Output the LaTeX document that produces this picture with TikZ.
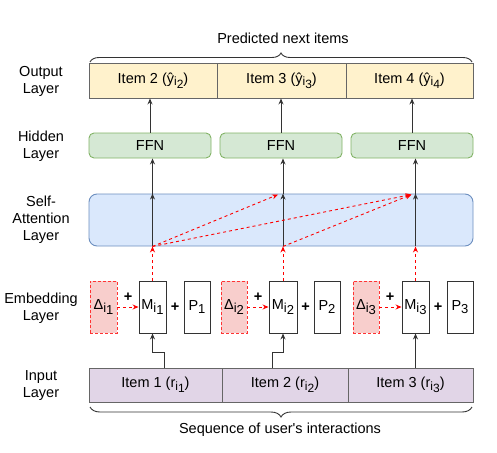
\documentclass[tikz,border=0pt]{standalone}
\usepackage{fontspec}
\setmainfont{Liberation Sans}[Ligatures=TeXOff]
\usetikzlibrary{arrows.meta,decorations.pathreplacing,calc}
\definecolor{outfill}{HTML}{FFF2CC}
\definecolor{infill}{HTML}{E1D5E7}
\definecolor{ffnfill}{HTML}{D5E8D4}
\definecolor{ffndraw}{HTML}{82B366}
\definecolor{safill}{HTML}{DAE8FC}
\definecolor{sadraw}{HTML}{6C8EBF}
\definecolor{dfill}{HTML}{F8CECC}
\definecolor{ddraw}{HTML}{FF3333}
\definecolor{lne}{HTML}{333333}
\newcommand\mysub[2]{\raisebox{-0.4ex}{\fontsize{13}{13}\selectfont #1\raisebox{-0.4ex}{#2}}}
\newcommand\ysub[2]{\raisebox{-0.35ex}{\fontsize{12}{12}\selectfont #1\raisebox{-0.4ex}{#2}}}
\newcommand\psub[1]{\raisebox{-0.45ex}{\fontsize{13}{13}\selectfont #1}}
\begin{document}
\begin{tikzpicture}[x=1pt,y=-1pt,font=\fontsize{14.5}{17}\selectfont,
  cell/.style={draw=black!60,line width=0.9pt,minimum height=35pt,inner sep=0pt,anchor=center},
  ocell/.style={cell,fill=outfill,minimum height=35pt},
  icell/.style={cell,fill=infill,minimum height=34pt},
  ffnbox/.style={draw=ffndraw,fill=ffnfill,line width=0.9pt,rounded corners=5pt,minimum width=122pt,minimum height=25pt,inner sep=0pt},
  sabox/.style={draw=sadraw,fill=safill,line width=0.9pt,rounded corners=8pt,minimum width=384pt,minimum height=52pt,inner sep=0pt},
  embox/.style={draw=lne,fill=white,line width=0.9pt,minimum height=52pt,inner sep=0pt},
  dbox/.style={draw=ddraw,fill=dfill,line width=0.9pt,dash pattern=on 3pt off 2pt,minimum height=52pt,inner sep=0pt},
  lab/.style={align=center,font=\fontsize{14.5}{17}\selectfont},
  arr/.style={draw=lne,line width=0.9pt,-{Stealth[length=6pt,width=5pt]}},
  attn/.style={draw=red,line width=0.9pt,dash pattern=on 3pt off 3pt,-{Stealth[length=6pt,width=5pt]}},
  brc/.style={draw=lne,line width=0.9pt,decorate}
]
\useasboundingbox (0,0) rectangle (497,452);
% output layer
\node[ocell,minimum width=128pt] (o1) at (153,80.5) {Item 2 (ŷ\ysub{i}{2})};
\node[ocell,minimum width=129pt] (o2) at (281.5,80.5) {Item 3 (ŷ\ysub{i}{3})};
\node[ocell,minimum width=127pt] (o3) at (409.5,80.5) {Item 4 (ŷ\ysub{i}{4})};
% hidden
\node[ffnbox] (f1) at (150,145.5) {FFN};
\node[ffnbox] (f2) at (281,145.5) {FFN};
\node[ffnbox] (f3) at (412,145.5) {FFN};
% self attention
\node[sabox] (sa) at (281,220) {};
% embedding
\node[dbox,minimum width=27pt] (d1) at (103.5,307) {Δ\mysub{i}{1}};
\node[embox,minimum width=27pt] (m1) at (152.5,307) {M\mysub{i}{1}};
\node[embox,minimum width=26pt] (p1) at (197,307) {P\psub{1}};
\node[dbox,minimum width=26pt] (d2) at (234,307) {Δ\mysub{i}{2}};
\node[embox,minimum width=28pt] (m2) at (283,307) {M\mysub{i}{2}};
\node[embox,minimum width=26pt] (p2) at (327,307) {P\psub{2}};
\node[dbox,minimum width=26pt] (d3) at (366,307) {Δ\mysub{i}{3}};
\node[embox,minimum width=27pt] (m3) at (415.5,307) {M\mysub{i}{3}};
\node[embox,minimum width=26pt] (p3) at (460,307) {P\psub{3}};
% input
\node[icell,minimum width=133pt] (i1) at (155.5,385) {Item 1 (r\ysub{i}{1})};
\node[icell,minimum width=126pt] (i2) at (285,385) {Item 2 (r\ysub{i}{2})};
\node[icell,minimum width=125pt] (i3) at (410.5,385) {Item 3 (r\ysub{i}{3})};
% plus signs
\node (pl1) at (128,297) {\textbf{+}};
\node (pl2) at (175,307) {\textbf{+}};
\node (pl3) at (258,297) {\textbf{+}};
\node (pl4) at (305.5,307) {\textbf{+}};
\node (pl5) at (390,297) {\textbf{+}};
\node (pl6) at (438,307) {\textbf{+}};
% left labels
\node[lab] (lo) at (41,81) {Output\\Layer};
\node[lab] (lh) at (41,146) {Hidden\\Layer};
\node[lab] (ls) at (41,220) {Self-\\Attention\\Layer};
\node[lab] (le) at (41,308) {Embedding\\Layer};
\node[lab] (li) at (41,386) {Input\\Layer};
% braces and captions
\coordinate (bt1) at (90,62);
\coordinate (bt2) at (472,62);
\draw[brc,decoration={brace,amplitude=9pt}] (bt1) -- (bt2);
\node (pred) at (283,38) {Predicted next items};
\coordinate (bb1) at (472,407);
\coordinate (bb2) at (90,407);
\draw[brc,decoration={brace,amplitude=10pt}] (bb1) -- (bb2);
\node (seq) at (280,430) {Sequence of user's interactions};
% FFN -> output
\draw[arr] (f1.north) -- (f1.north |- o1.south);
\draw[arr] (f2.north) -- (f2.north |- o2.south);
\draw[arr] (f3.north) -- (f3.north |- o3.south);
% SA columns
\foreach \m/\f in {m1/f1,m2/f2,m3/f3}{
  \draw[arr] (\m.north |- sa.south) -- (\m.north |- sa.north);
  \draw[arr] (\m.north |- sa.north) -- (\m.north |- \f.south);
  \draw[attn] (\m.north) -- (\m.north |- sa.south);
}
% attention connections
\coordinate (a1) at (m1.north |- sa.south);
\coordinate (a2) at (m2.north |- sa.south);
\coordinate (t2) at ($(m2.north |- sa.north)+(-5,1)$);
\coordinate (t3) at ($(m3.north |- sa.north)+(-4,1)$);
\draw[attn] (a1) -- (t2);
\draw[attn] (a1) -- (t3);
\draw[attn] (a2) -- (t3);
% delta -> M
\draw[attn] (d1.east) -- (m1.west);
\draw[attn] (d2.east) -- (m2.west);
\draw[attn] (d3.east) -- (m3.west);
% input -> M
\coordinate (s1) at (164,368);
\coordinate (s2) at (272,368);
\draw[arr] (s1) -- ++(0,-16) -| (m1.south);
\draw[arr] (s2) -- ++(0,-16) -| (m2.south);
\draw[arr] (m3.south |- i3.north) -- (m3.south);
\end{tikzpicture}
\end{document}
